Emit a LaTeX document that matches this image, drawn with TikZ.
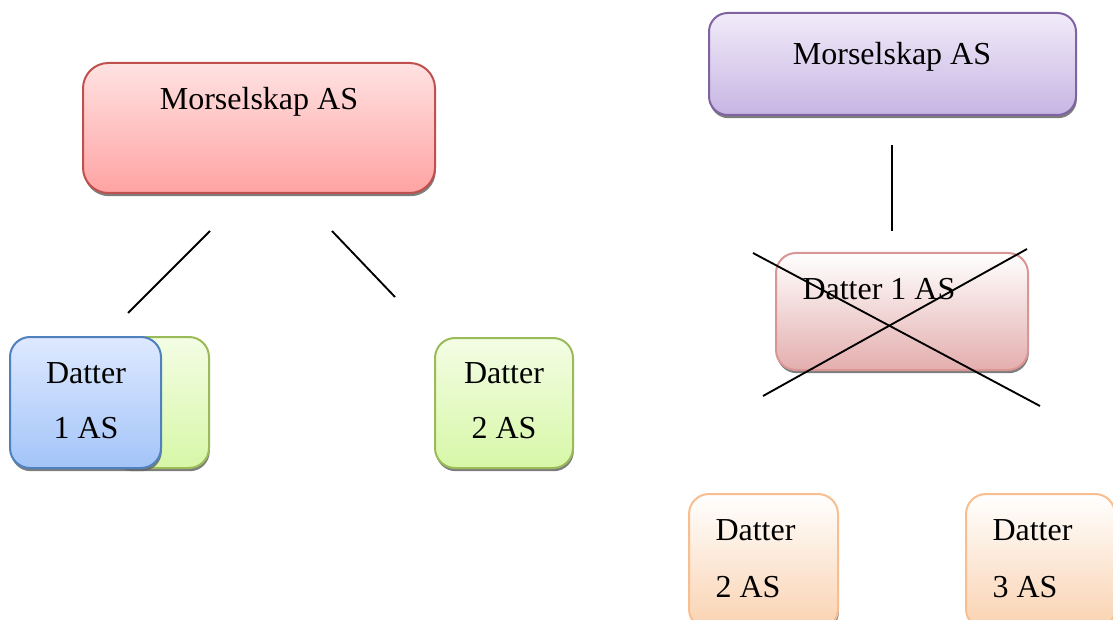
\documentclass[tikz,border=0pt]{standalone}
\usepackage{fontspec}
\setmainfont{Liberation Serif}
\usetikzlibrary{shadows}

\definecolor{redline}{RGB}{192,80,77}
\definecolor{redtop}{RGB}{255,226,226}
\definecolor{redbot}{RGB}{255,163,163}
\definecolor{blueline}{RGB}{79,129,189}
\definecolor{bluetop}{RGB}{222,233,255}
\definecolor{bluebot}{RGB}{163,196,248}
\definecolor{greenline}{RGB}{155,187,89}
\definecolor{greentop}{RGB}{243,253,228}
\definecolor{greenbot}{RGB}{215,247,167}
\definecolor{purpleline}{RGB}{128,100,162}
\definecolor{purpletop}{RGB}{241,235,249}
\definecolor{purplebot}{RGB}{199,181,227}
\definecolor{pinkline}{RGB}{217,150,148}
\definecolor{pinkbot}{RGB}{228,174,174}
\definecolor{orangeline}{RGB}{249,190,143}
\definecolor{orangebot}{RGB}{250,210,176}

\tikzset{every picture/.style={line width=0.75pt}}
\tikzset{
  box/.style={draw, rounded corners=15pt, line width=1.5pt, inner sep=0pt,
    drop shadow={shadow xshift=0.6pt, shadow yshift=-2.4pt, fill=black!60, opacity=0.85}},
  boxtxt/.style={inner sep=0.75pt, font=\fontsize{24}{28}\selectfont},
  link/.style={line width=1.4pt},
}

\begin{document}
\begin{tikzpicture}[x=0.75pt,y=0.75pt,yscale=-1,xscale=1]
	\useasboundingbox (0,0) rectangle (1113,620);
	
	%Rounded Rect -- left parent
	\node (morA) [box, rounded corners=19pt, color=redline, top color=redtop, bottom color=redbot, minimum width=264pt, minimum height=97.5pt] at (259,128) {};
	%Rounded Rect -- back of datter 1
	\node (datAback) [box, color=greenline, top color=greentop, bottom color=greenbot, minimum width=72.75pt, minimum height=98.25pt] at (160.5,402.5) {};
	%Rounded Rect -- datter 1
	\node (datA) [box, color=blueline, top color=bluetop, bottom color=bluebot, minimum width=113.25pt, minimum height=98.25pt] at (85.5,402.5) {};
	%Rounded Rect -- datter 2
	\node (datB) [box, color=greenline, top color=greentop, bottom color=greenbot, minimum width=103.5pt, minimum height=97.5pt] at (504,403) {};
	
	%Rounded Rect -- right parent
	\node (morR) [box, rounded corners=14pt, color=purpleline, top color=purpletop, bottom color=purplebot, minimum width=275.25pt, minimum height=76.5pt] at (892.5,64) {};
	%Rounded Rect -- struck datter 1
	\node (datRA) [box, color=pinkline, top color=white, bottom color=pinkbot, minimum width=189pt, minimum height=87.75pt] at (902,311.5) {};
	%Rounded Rect -- datter 2 and 3
	\node (datRB) [box, color=orangeline, top color=white, bottom color=orangebot, minimum width=111.75pt, minimum height=101.25pt] at (763.5,561.5) {};
	\node (datRC) [box, color=orangeline, top color=white, bottom color=orangebot, minimum width=111.75pt, minimum height=101.25pt] at (1040.5,561.5) {};
	
	%Straight Lines
	\coordinate (lA1) at (210,231);
	\coordinate (lA2) at (128,313);
	\coordinate (lB1) at (332,231);
	\coordinate (lB2) at (395,297);
	\coordinate (lR1) at (892,145);
	\coordinate (lR2) at (892,231);
	\draw [link] (lA1) -- (lA2) ;
	\draw [link] (lB1) -- (lB2) ;
	\draw [link] (lR1) -- (lR2) ;
	
	% Text Node
	\node (tMorA) [boxtxt, anchor=base] at (259,110) {Morselskap AS};
	% Text Node
	\node (tDatA1) [boxtxt, anchor=base] at (86,383) {Datter};
	\node (tDatA2) [boxtxt, anchor=base] at (86,438) {1 AS};
	% Text Node
	\node (tDatB1) [boxtxt, anchor=base] at (504,383) {Datter};
	\node (tDatB2) [boxtxt, anchor=base] at (504,438) {2 AS};
	% Text Node
	\node (tMorR) [boxtxt, anchor=base] at (892,65) {Morselskap AS};
	% Text Node
	\node (tDatRA) [boxtxt, anchor=base west] at (801,300) {Datter 1 AS};
	% Text Node
	\node (tDatRB1) [boxtxt, anchor=base west] at (714,540) {Datter};
	\node (tDatRB2) [boxtxt, anchor=base west] at (714,597) {2 AS};
	\node (tDatRC1) [boxtxt, anchor=base west] at (991,540) {Datter};
	\node (tDatRC2) [boxtxt, anchor=base west] at (991,597) {3 AS};
	
	%Cross over datter 1
	\coordinate (xA1) at (753,253);
	\coordinate (xA2) at (1040,406);
	\coordinate (xB1) at (763,396);
	\coordinate (xB2) at (1027,249);
	\draw [link] (xA1) -- (xA2) ;
	\draw [link] (xB1) -- (xB2) ;
	
\end{tikzpicture}
\end{document}
